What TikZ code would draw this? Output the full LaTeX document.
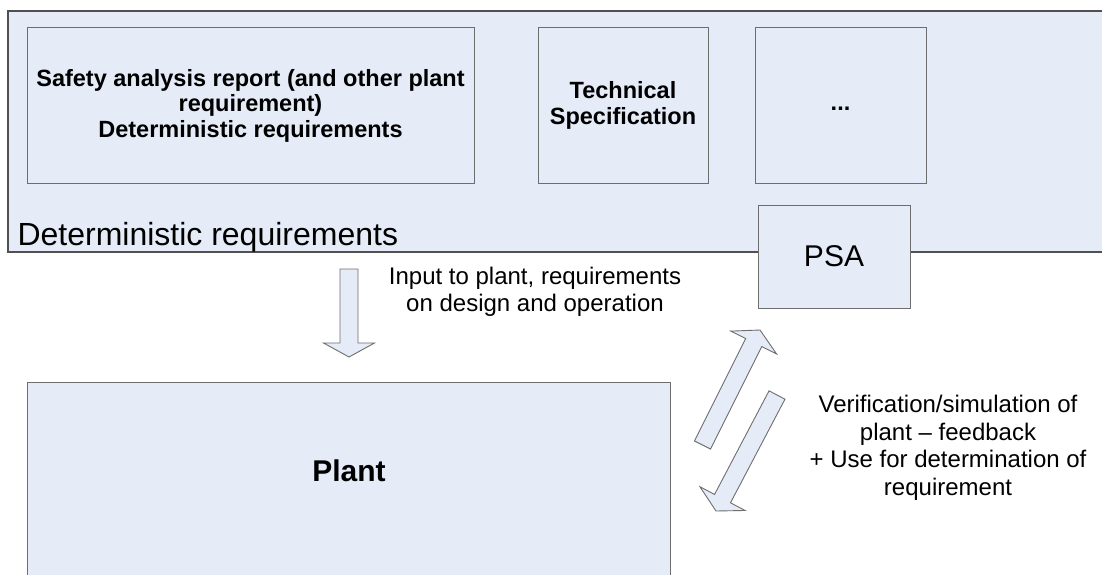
\documentclass[tikz,border=0pt]{standalone}
\usepackage{fontspec}
\setmainfont{Liberation Sans}
\usetikzlibrary{calc}
\definecolor{boxfill}{HTML}{E5ECF7}
\definecolor{boxline}{HTML}{6E6E6E}
\definecolor{outerline}{HTML}{505050}
\tikzset{
  box/.style={draw=boxline, fill=boxfill, line width=1pt, inner sep=0pt, outer sep=0pt},
  boldtext/.style={font=\fontsize{23.5}{25.5}\selectfont\bfseries, align=center, text=black},
  plaintext/.style={font=\fontsize{24}{27.5}\selectfont, align=center, text=black},
  bigtext/.style={font=\fontsize{32}{36}\selectfont, text=black},
  blockarrow/.style={draw=boxline, fill=boxfill, line width=0.9pt, line join=miter}
}
\newcommand{\blockarr}[2]{%
  \coordinate (#1h) at ($(#2)!14pt!(#1)$);
  \path[blockarrow]
    ($(#1)!9pt!90:(#2)$) -- ($(#1h)!9pt!-90:(#1)$) -- ($(#1h)!25.5pt!-90:(#1)$) --
    (#2) -- ($(#1h)!25.5pt!90:(#1)$) -- ($(#1h)!9pt!90:(#1)$) --
    ($(#1)!9pt!-90:(#2)$) -- cycle;
}
\begin{document}
\begin{tikzpicture}[x=1pt, y=-1pt]
\useasboundingbox (0,0) rectangle (1102,575);
\fill[white] (0,0) rectangle (1102,575);
% outer container
\node[box, draw=outerline, line width=1.2pt, minimum width=1106pt, minimum height=241pt] (outer) at (561,131.5) {};
\node[bigtext, anchor=base west] (detlabel) at (14,245) {Deterministic requirements};
% inner boxes
\node[box, minimum width=447pt, minimum height=155pt] (sar) at (250.5,105.5) {};
\node[boldtext] (sartext) at (sar.center) {Safety analysis report (and other plant\\requirement)\\Deterministic requirements};
\node[box, minimum width=170pt, minimum height=155pt] (techspec) at (623,105.5) {};
\node[boldtext] (techtext) at (techspec.center) {Technical\\Specification};
\node[box, minimum width=171pt, minimum height=155pt] (more) at (840.5,105.5) {};
\node[boldtext] (moretext) at (840.5,109) {...};
\node[box, minimum width=152pt, minimum height=103pt] (psa) at (834,256.5) {};
\node[font=\fontsize{30}{34}\selectfont] (psatext) at (psa.center) {PSA};
% plant
\node[box, minimum width=643pt, minimum height=230pt] (plant) at (348.5,497) {};
\node[font=\fontsize{30}{34}\selectfont\bfseries] (planttext) at (349,471) {Plant};
% down arrow
\coordinate (dA) at (349,269);
\coordinate (dB) at (349,357);
\blockarr{dA}{dB}
\node[plaintext] (inputtext) at (535,292) {Input to plant, requirements\\on design and operation};
% diagonal arrows
\coordinate (uA) at (702.5,445);
\coordinate (uB) at (760,330);
\blockarr{uA}{uB}
\coordinate (wA) at (777,395);
\coordinate (wB) at (716,511);
\blockarr{wA}{wB}
\node[plaintext] (veriftext) at (948,448) {Verification/simulation of\\plant -- feedback\\+ Use for determination of\\requirement};
\end{tikzpicture}
\end{document}
